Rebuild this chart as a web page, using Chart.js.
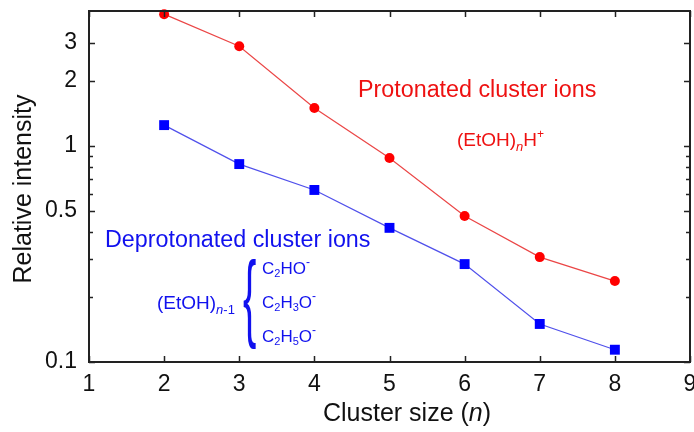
<!DOCTYPE html>
<html><head><meta charset="utf-8">
<script src="https://cdn.jsdelivr.net/npm/chart.js@4.4.1/dist/chart.umd.min.js"></script>
<style>html,body{margin:0;padding:0;background:#fff;overflow:hidden}#wrap{width:694px;height:432px;position:relative}canvas{display:block}</style>
</head><body><div id="wrap"><canvas id="c" width="694" height="432" style="width:694px;height:432px"></canvas></div>
<script>
const clusterSizes = [2, 3, 4, 5, 6, 7, 8];
const protonated = [4.08, 2.90, 1.50, 0.88, 0.474, 0.306, 0.237];
const deprotonated = [1.25, 0.825, 0.626, 0.418, 0.284, 0.150, 0.114];
const xTickValues = [1, 2, 3, 4, 5, 6, 7, 8, 9];
const yMajorTicks = [0.1, 0.5, 1, 2, 3];
const yMinorTicks = [0.2, 0.3, 0.4, 0.6, 0.7, 0.8, 0.9];

const FONT = '"Liberation Sans", Arial, sans-serif';

function richText(ctx, x, y, parts, color, align) {
  ctx.save();
  ctx.fillStyle = color;
  ctx.textBaseline = 'middle';
  ctx.textAlign = 'left';
  let total = 0;
  for (const p of parts) {
    ctx.font = (p[2] ? 'italic ' : '') + p[1] + 'px ' + FONT;
    total += ctx.measureText(p[0]).width;
  }
  let cx = align === 'center' ? x - total / 2 : x;
  for (const p of parts) {
    ctx.font = (p[2] ? 'italic ' : '') + p[1] + 'px ' + FONT;
    ctx.fillText(p[0], cx, y + (p[3] || 0));
    cx += ctx.measureText(p[0]).width;
  }
  ctx.restore();
}

function zeroPad(s) { s.paddingTop = 0; s.paddingBottom = 0; s.paddingLeft = 0; s.paddingRight = 0; }

const decor = {
  id: 'decor',
  afterDraw(chart) {
    const ctx = chart.ctx;
    const a = chart.chartArea;
    const xs = chart.scales.x, ys = chart.scales.y;
    ctx.save();
    ctx.strokeStyle = '#222';
    ctx.lineWidth = 2;
    ctx.strokeRect(a.left, a.top, a.right - a.left, a.bottom - a.top);
    ctx.lineWidth = 1.5;
    ctx.beginPath();
    for (const v of xTickValues) {
      const px = Math.round(xs.getPixelForValue(v)) + 0.5;
      ctx.moveTo(px, a.bottom); ctx.lineTo(px, a.bottom - 6);
      ctx.moveTo(px, a.top); ctx.lineTo(px, a.top + 6);
    }
    for (const v of yMajorTicks) {
      const py = Math.round(ys.getPixelForValue(v)) + 0.5;
      ctx.moveTo(a.left, py); ctx.lineTo(a.left + 6, py);
      ctx.moveTo(a.right, py); ctx.lineTo(a.right - 6, py);
    }
    for (const v of yMinorTicks) {
      const py = Math.round(ys.getPixelForValue(v)) + 0.5;
      ctx.moveTo(a.left, py); ctx.lineTo(a.left + 4, py);
      ctx.moveTo(a.right, py); ctx.lineTo(a.right - 4, py);
    }
    ctx.stroke();

    ctx.fillStyle = '#111';
    ctx.font = '23px ' + FONT;
    ctx.textAlign = 'center';
    ctx.textBaseline = 'middle';
    for (const v of xTickValues) {
      ctx.fillText(String(v), xs.getPixelForValue(v), a.bottom + 23);
    }

    ctx.save();
    ctx.translate(24, 189);
    ctx.rotate(-Math.PI / 2);
    ctx.font = '25px ' + FONT;
    ctx.textAlign = 'center';
    ctx.textBaseline = 'middle';
    ctx.fillText('Relative intensity', 0, 0);
    ctx.restore();
    richText(ctx, 407, 414, [['Cluster size (', 25], ['n', 25, true], [')', 25]], '#111', 'center');

    const red = '#ee1111', blue = '#1111ee';
    richText(ctx, 358, 91, [['Protonated cluster ions', 23.3]], red, 'left');
    richText(ctx, 457, 141, [['(EtOH)', 19], ['n', 13, true, 6], ['H', 19], ['+', 12, false, -6]], red, 'left');
    richText(ctx, 105, 241, [['Deprotonated cluster ions', 23.3]], blue, 'left');
    richText(ctx, 157, 304, [['(EtOH)', 19], ['n', 13, true, 6], ['-1', 13, false, 6]], blue, 'left');
    ctx.save();
    ctx.fillStyle = blue;
    ctx.font = '32px ' + FONT;
    ctx.textAlign = 'left';
    ctx.textBaseline = 'middle';
    ctx.translate(243, 303);
    ctx.scale(1.25, 3.0);
    ctx.fillText('{', 0, 0);
    ctx.restore();
    richText(ctx, 262, 269, [['C', 17], ['2', 11, false, 5], ['HO', 17], ['-', 12, false, -6]], blue, 'left');
    richText(ctx, 262, 303, [['C', 17], ['2', 11, false, 5], ['H', 17], ['3', 11, false, 5], ['O', 17], ['-', 12, false, -6]], blue, 'left');
    richText(ctx, 262, 337, [['C', 17], ['2', 11, false, 5], ['H', 17], ['5', 11, false, 5], ['O', 17], ['-', 12, false, -6]], blue, 'left');
    ctx.restore();
  }
};

new Chart(document.getElementById('c'), {
  type: 'line',
  data: {
    datasets: [
      {
        label: 'Protonated',
        data: clusterSizes.map((n, i) => ({ x: n, y: protonated[i] })),
        borderColor: 'rgb(235,70,70)',
        borderWidth: 1.2,
        pointStyle: 'circle',
        pointRadius: 5,
        pointBackgroundColor: '#ff0000',
        pointBorderWidth: 0,
        tension: 0
      },
      {
        label: 'Deprotonated',
        data: clusterSizes.map((n, i) => ({ x: n, y: deprotonated[i] })),
        borderColor: 'rgb(80,80,235)',
        borderWidth: 1.2,
        pointStyle: 'rect',
        pointRadius: 7,
        pointBackgroundColor: '#0000ff',
        pointBorderWidth: 0,
        tension: 0
      }
    ]
  },
  options: {
    responsive: false,
    animation: false,
    devicePixelRatio: 1,
    clip: false,
    layout: { autoPadding: false, padding: { top: 11, right: 4, left: 0, bottom: 0 } },
    plugins: { legend: { display: false }, tooltip: { enabled: false } },
    scales: {
      x: {
        type: 'linear',
        min: 1, max: 9,
        grid: { display: false, drawTicks: false },
        border: { display: false },
        afterBuildTicks: s => { s.ticks = xTickValues.map(v => ({ value: v })); },
        ticks: { display: false },
        afterFit: s => { s.height = 70; zeroPad(s); }
      },
      y: {
        type: 'logarithmic',
        min: 0.1, max: 4.22,
        grid: { display: false, drawTicks: false },
        border: { display: false },
        afterBuildTicks: s => { s.ticks = yMajorTicks.map(v => ({ value: v })); },
        ticks: { color: '#111', font: { family: FONT, size: 23 }, padding: 12, callback: v => String(v), autoSkip: false },
        afterFit: s => { s.width = 89; zeroPad(s); }
      }
    }
  },
  plugins: [decor]
});
</script>
</body></html>
